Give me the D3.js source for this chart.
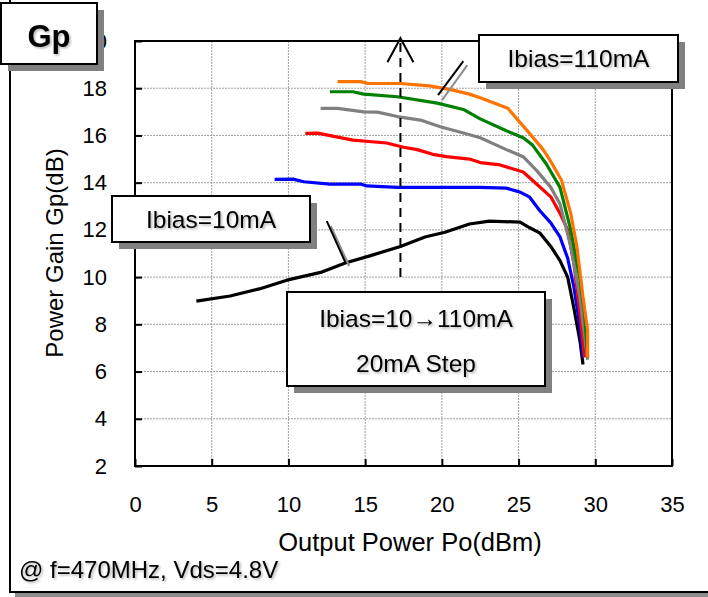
<!DOCTYPE html>
<html>
<head>
<meta charset="utf-8">
<script src="https://cdn.jsdelivr.net/npm/d3@7"></script>
<style>
  html, body { margin: 0; padding: 0; background: #fff; }
  svg { display: block; font-family: "Liberation Sans", Arial, sans-serif; }
</style>
</head>
<body>
<svg id="chart" width="708" height="597"></svg>
<script>
// axis ticks
const xTicks = [0, 5, 10, 15, 20, 25, 30, 35];
const yTicks = [2, 4, 6, 8, 10, 12, 14, 16, 18, 20];

// Ibias series, output power Po (dBm) / gain Gp (dB)
const po10 = [4.0, 6.2, 8.1, 9.9, 12.1, 13.7, 15.3, 17.3, 18.9, 20.2, 21.8, 23.1, 25.1, 25.7, 26.4, 27.1, 27.7, 28.2, 28.6, 29.0, 29.2];
const gp10 = [8.98, 9.2, 9.5, 9.87, 10.2, 10.6, 10.9, 11.3, 11.7, 11.9, 12.25, 12.37, 12.33, 12.1, 11.86, 11.3, 10.7, 10.0, 8.7, 7.3, 6.3];

const po30 = [9.1, 10.3, 11.0, 12.7, 14.7, 15.1, 17.1, 22.5, 24.2, 25.1, 25.7, 26.4, 27.1, 27.7, 28.2, 28.6, 29.0, 29.2];
const gp30 = [14.14, 14.15, 14.04, 13.94, 13.94, 13.86, 13.8, 13.8, 13.77, 13.6, 13.4, 12.8, 12.3, 11.7, 10.8, 9.6, 7.9, 6.6];

const po50 = [11.1, 11.9, 14.2, 16.4, 17.5, 18.4, 19.4, 20.3, 21.8, 22.5, 23.8, 25.3, 25.9, 27.1, 27.7, 28.2, 28.6, 29.0, 29.3];
const gp50 = [16.09, 16.1, 15.8, 15.68, 15.5, 15.4, 15.2, 15.1, 15.0, 14.85, 14.75, 14.45, 14.1, 13.4, 12.7, 12.0, 10.6, 8.5, 6.6];

const po70 = [12.1, 13.2, 14.9, 15.8, 17.1, 18.6, 19.9, 21.4, 22.5, 24.2, 25.3, 26.2, 27.1, 27.7, 28.4, 29.0, 29.5];
const gp70 = [17.15, 17.15, 17.0, 16.99, 16.8, 16.65, 16.37, 16.1, 15.9, 15.4, 15.1, 14.5, 13.8, 13.1, 11.3, 9.15, 6.5];

const po90 = [12.7, 14.2, 14.9, 17.1, 19.7, 21.4, 22.5, 24.2, 25.3, 25.9, 26.8, 27.7, 28.4, 29.0, 29.3, 29.5];
const gp90 = [17.85, 17.85, 17.75, 17.64, 17.37, 17.1, 16.7, 16.2, 15.9, 15.6, 14.8, 13.8, 12.0, 9.9, 8.5, 6.6];

const po110 = [13.2, 14.7, 15.2, 17.3, 19.2, 20.5, 21.8, 22.5, 24.3, 25.7, 26.6, 27.1, 27.8, 28.4, 28.8, 29.2, 29.5, 29.5];
const gp110 = [18.28, 18.28, 18.2, 18.2, 18.1, 17.95, 17.75, 17.6, 17.15, 16.1, 15.4, 14.9, 14.1, 12.7, 11.3, 9.15, 7.75, 6.6];

const seriesNames = ["10mA", "30mA", "50mA", "70mA", "90mA", "110mA"];
const seriesColors = ["#000000", "#0000ff", "#ff0000", "#808080", "#008000", "#ff7300"];
const seriesPo = [po10, po30, po50, po70, po90, po110];
const seriesGp = [gp10, gp30, gp50, gp70, gp90, gp110];

// annotations (data coords)
const sweepArrow = { x: 17.3, y0: 10.0, y1: 20.12 };
const leader110 = [[19.75, 17.71], [21.4, 19.15]];
const leader10 = [[12.5, 12.37], [13.7, 10.64]];

const svg = d3.select("#chart");
const W = 708, H = 597;
const plot = { left: 135, right: 672, top: 41, bottom: 466 };

const x = d3.scaleLinear().domain([0, 35]).range([plot.left, plot.right]);
const y = d3.scaleLinear().domain([2, 20]).range([plot.bottom, plot.top]);

const defs = svg.append("defs");
const f = defs.append("filter").attr("id", "tshadow")
  .attr("x", "-10%").attr("y", "-30%").attr("width", "130%").attr("height", "170%");
f.append("feDropShadow").attr("dx", 1.5).attr("dy", 1.5)
  .attr("stdDeviation", 1.2).attr("flood-color", "#000").attr("flood-opacity", 0.3);

// outer frame
svg.append("rect").attr("x", 15).attr("y", 593).attr("width", W - 15).attr("height", 5).attr("fill", "#8c8c8c");
svg.append("path")
  .attr("d", `M10,0 V592 H${W}`)
  .attr("fill", "none").attr("stroke", "#000").attr("stroke-width", 2);

// gridlines
const grid = svg.append("g").attr("stroke", "#a0a0a0").attr("stroke-width", 1).attr("stroke-dasharray", "2,1");
grid.selectAll(".gx").data(xTicks.slice(1, -1)).join("line")
  .attr("x1", d => x(d)).attr("x2", d => x(d)).attr("y1", plot.top).attr("y2", plot.bottom);
grid.selectAll(".gy").data(yTicks.slice(1, -1)).join("line")
  .attr("y1", d => y(d)).attr("y2", d => y(d)).attr("x1", plot.left).attr("x2", plot.right);

// axes
const xAxis = svg.append("g").attr("transform", `translate(0,${plot.bottom})`)
  .call(d3.axisBottom(x).tickValues(xTicks).tickSizeInner(-7).tickSizeOuter(0).tickPadding(30));
const yAxis = svg.append("g").attr("transform", `translate(${plot.left},0)`)
  .call(d3.axisLeft(y).tickValues(yTicks).tickSizeInner(-7).tickSizeOuter(0).tickPadding(28));
[xAxis, yAxis].forEach(a => {
  a.select(".domain").remove();
  a.selectAll(".tick line").attr("stroke", "#000").attr("stroke-width", 2);
  a.selectAll(".tick text").attr("fill", "#000").style("font-size", "22px");
});

// plot frame
svg.append("rect")
  .attr("x", plot.left).attr("y", plot.top)
  .attr("width", plot.right - plot.left).attr("height", plot.bottom - plot.top)
  .attr("fill", "none").attr("stroke", "#000").attr("stroke-width", 2);

// axis titles
svg.append("text").attr("x", 410).attr("y", 551).attr("text-anchor", "middle")
  .style("font-size", "25.5px").text("Output Power Po(dBm)");
svg.append("text").attr("transform", "translate(63,253) rotate(-90)").attr("text-anchor", "middle")
  .style("font-size", "24px").text("Power Gain Gp(dB)");

// curves
const line = d3.line().x(d => x(d[0])).y(d => y(d[1]));
svg.append("g").selectAll("path")
  .data(seriesNames.map((n, i) => ({ name: n, color: seriesColors[i], pts: d3.zip(seriesPo[i], seriesGp[i]) })))
  .join("path")
  .attr("d", d => line(d.pts))
  .attr("fill", "none")
  .attr("stroke", d => d.color)
  .attr("stroke-width", 3.2)
  .attr("stroke-linejoin", "round");

// sweep arrow
const ax = x(sweepArrow.x), ayTop = y(sweepArrow.y1);
svg.append("line")
  .attr("x1", ax).attr("x2", ax).attr("y1", y(sweepArrow.y0)).attr("y2", ayTop)
  .attr("stroke", "#000").attr("stroke-width", 2).attr("stroke-dasharray", "9,6");
svg.append("path")
  .attr("d", `M${ax - 13},${ayTop + 24} L${ax},${ayTop} L${ax + 13},${ayTop + 24}`)
  .attr("fill", "none").attr("stroke", "#000").attr("stroke-width", 2);

// leader lines with grey offset shadow
function leader(pts) {
  const p = pts.map(d => [x(d[0]), y(d[1])]);
  svg.append("line").attr("x1", p[0][0] + 4).attr("y1", p[0][1] + 5).attr("x2", p[1][0] + 4).attr("y2", p[1][1] + 4)
    .attr("stroke", "#8c8c8c").attr("stroke-width", 2);
  svg.append("line").attr("x1", p[0][0]).attr("y1", p[0][1]).attr("x2", p[1][0]).attr("y2", p[1][1])
    .attr("stroke", "#000").attr("stroke-width", 2);
}
leader(leader110);
leader(leader10);

// label boxes
function box(bx, by, bw, bh, lines, opts = {}) {
  const g = svg.append("g");
  g.append("rect").attr("x", bx + 7).attr("y", by + 7).attr("width", bw).attr("height", bh).attr("fill", "#808080");
  g.append("rect").attr("x", bx).attr("y", by).attr("width", bw).attr("height", bh)
    .attr("fill", "#fff").attr("stroke", "#000").attr("stroke-width", 2);
  lines.forEach(l => {
    g.append("text").attr("x", bx + bw / 2).attr("y", l.y).attr("text-anchor", "middle")
      .style("font-size", opts.size || "24.5px").style("font-weight", opts.weight || "normal")
      .attr("filter", "url(#tshadow)").text(l.t);
  });
}
box(1, 3, 96, 61, [{ t: "Gp", y: 47 }], { size: "31px", weight: "bold" });
box(479, 35, 199, 47, [{ t: "Ibias=110mA", y: 67 }]);
box(112, 196, 198, 46, [{ t: "Ibias=10mA", y: 228 }]);
box(287, 292, 258, 94, [{ t: "Ibias=10\u2192110mA", y: 327 }, { t: "20mA Step", y: 372 }]);

// footnote
svg.append("text").attr("x", 19).attr("y", 578).style("font-size", "24px")
  .attr("filter", "url(#tshadow)").text("@ f=470MHz, Vds=4.8V");
</script>
</body>
</html>
